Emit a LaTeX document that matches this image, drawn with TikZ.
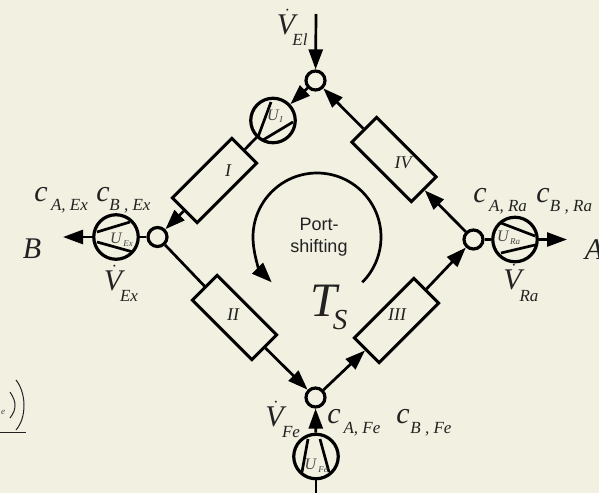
\documentclass[tikz,border=0pt]{standalone}
\usepackage{fontspec}
\setmainfont{Liberation Serif}
\setsansfont{Liberation Sans}
\usetikzlibrary{arrows.meta}
\definecolor{bgc}{HTML}{F1F0E1}
\definecolor{txt}{HTML}{222222}
\definecolor{utxt}{HTML}{444444}
\newcommand{\vdot}{$\skew{2}\dot{\hbox{\itshape V}}$}
\tikzset{
 x=1pt,y=-1pt,
 wire/.style={line width=2.7pt,black},
 tip/.style={-{Triangle[length=20pt,width=14pt]}},
 junction/.style={circle,draw,line width=3.2pt,minimum size=19pt,inner sep=0pt},
 pump/.style={circle,draw,line width=3.2pt,minimum size=44.5pt,inner sep=0pt},
 res/.style={rectangle,draw,line width=3pt,minimum width=84pt,minimum height=35pt,inner sep=0pt},
 lab/.style={inner sep=0pt,font=\itshape\fontsize{30}{30}\selectfont,text=txt},
 sub/.style={inner sep=0pt,font=\itshape\fontsize{17}{17}\selectfont,text=txt},
 rom/.style={inner sep=0pt,font=\itshape\fontsize{18}{18}\selectfont,text=txt},
 usub/.style={inner sep=0pt,font=\itshape\fontsize{16}{16}\selectfont,text=utxt},
 utiny/.style={inner sep=0pt,font=\itshape\fontsize{9}{9}\selectfont,text=utxt},
}
\begin{document}
\begin{tikzpicture}
\useasboundingbox (0,0) rectangle (599,493);
\fill[bgc] (0,0) rectangle (599,493);
% junctions
\node[junction] (top) at (315.5,80.5) {};
\node[junction] (left) at (157.5,237) {};
\node[junction] (right) at (473.5,239.5) {};
\node[junction] (bot) at (315.5,397.5) {};
% pumps
\node[pump] (p1) at (273,120.5) {};
\node[pump] (pex) at (116,237) {};
\node[pump] (pra) at (515,239.5) {};
\node[pump] (pfe) at (316,456.5) {};
% resistors
\node[res,rotate=45] (r1) at (214.5,180.5) {};
\node[res,rotate=-45] (r4) at (394,159.5) {};
\node[res,rotate=-45] (r2) at (234.5,317.5) {};
\node[res,rotate=45] (r3) at (396.5,320.5) {};
% free ends
\coordinate (elin) at (316,14);
\coordinate (bout) at (63,237);
\coordinate (aout) at (567,239.5);
\coordinate (fein) at (316,493);
% connectors
\draw[wire,tip] (elin) -- (top);
\draw[wire,tip] (top) -- (p1);
\draw[wire] (p1) -- (r1);
\draw[wire,tip] (r1) -- (left);
\draw[wire] (left) -- (pex);
\draw[wire,tip] (pex) -- (bout);
\draw[wire] (left) -- (r2);
\draw[wire,tip] (r2) -- (bot);
\draw[wire,tip] (bot) -- (r3);
\draw[wire,tip] (r3) -- (right);
\draw[wire,tip] (right) -- (r4);
\draw[wire,tip] (r4) -- (top);
\draw[wire] (right) -- (pra);
\draw[wire,tip] (pra) -- (aout);
\draw[wire] (fein) -- (pfe);
\draw[wire,tip] (pfe) -- (bot);
% pump blades
\draw[wire] (258,137) -- (271,102);
\draw[wire] (263,140) -- (293,122);
\draw[wire] (97,232) -- (130,222);
\draw[wire] (97,242) -- (133,252);
\draw[wire] (501,223) -- (535,236);
\draw[wire] (501,253) -- (535,245);
\draw[wire] (308,439) -- (302,472);
\draw[wire] (320,439) -- (329,472);
% circular arrow
\draw[line width=2.7pt,-{Triangle[length=20pt,width=15pt]}] (362.3,282.3) .. controls (374.3,270.3) and (381,254) .. (381,237) .. controls (381,201.7) and (352.3,173) .. (317,173) .. controls (281.7,173) and (253,201.7) .. (253,237) .. controls (253,254) and (259.7,270.3) .. (271.7,282.3);
% texts
\node[inner sep=0pt,align=center,text=txt,font=\sffamily\fontsize{18}{22}\selectfont] (port) at (319,237) {Port-\\shifting};
\node[lab,font=\itshape\fontsize{48}{48}\selectfont] (ts) at (323.5,301) {T};
\node[lab,font=\itshape\fontsize{29}{29}\selectfont] (tss) at (340,320) {S};
\node[lab] (ve) at (286,22) {\vdot};
\node[sub] (ves) at (300,40) {El};
\node[lab] (ce) at (41,195) {c};
\node[sub] (ces) at (69.5,206) {A, Ex};
\node[lab] (ce2) at (103,195) {c};
\node[sub] (ce2s) at (130,206) {B , Ex};
\node[lab] (bl) at (32,249) {B};
\node[lab] (vx) at (113,278) {\vdot};
\node[sub] (vxs) at (129,296) {Ex};
\node[lab] (cr) at (480,196) {c};
\node[sub] (crs) at (508,207) {A, Ra};
\node[lab] (cr2) at (543,196) {c};
\node[sub] (cr2s) at (571,207) {B , Ra};
\node[lab] (al) at (594,250) {A};
\node[lab] (vr) at (512.5,277) {\vdot};
\node[sub] (vrs) at (529,296) {Ra};
\node[lab] (vf) at (274.5,414) {\vdot};
\node[sub] (vfs) at (291,432) {Fe};
\node[lab] (cf) at (334,417) {c};
\node[sub] (cfs) at (362,429) {A, Fe};
\node[lab] (cf2) at (403,417) {c};
\node[sub] (cf2s) at (431,429) {B , Fe};
\node[rom] (li) at (228,171) {I};
\node[rom] (liv) at (403,163) {IV};
\node[rom] (lii) at (233,315) {II};
\node[rom] (liii) at (397,315) {III};
\node[usub] (u1) at (273,115) {U};
\node[utiny] (u1s) at (281,120) {I};
\node[usub] (u2) at (116,238) {U};
\node[utiny] (u2s) at (128,244) {Ex};
\node[usub] (u3) at (503,236) {U};
\node[utiny] (u3s) at (515,242) {Ra};
\node[usub] (u4) at (310.5,464) {U};
\node[utiny] (u4s) at (323,470) {Fe};
% fragment at the left edge
\node[utiny] (frag) at (3,412) {e};
\draw[line width=1pt,txt] (16,380) .. controls (21,386) and (24,396) .. (24,405) .. controls (24,416) and (21,424) .. (16,430);
\draw[line width=1pt,txt] (10,392) .. controls (14,398) and (15,402) .. (15,405) .. controls (15,409) and (14,413) .. (10,418);
\draw[line width=1pt,txt] (0,432) -- (26,432);
\end{tikzpicture}
\end{document}
